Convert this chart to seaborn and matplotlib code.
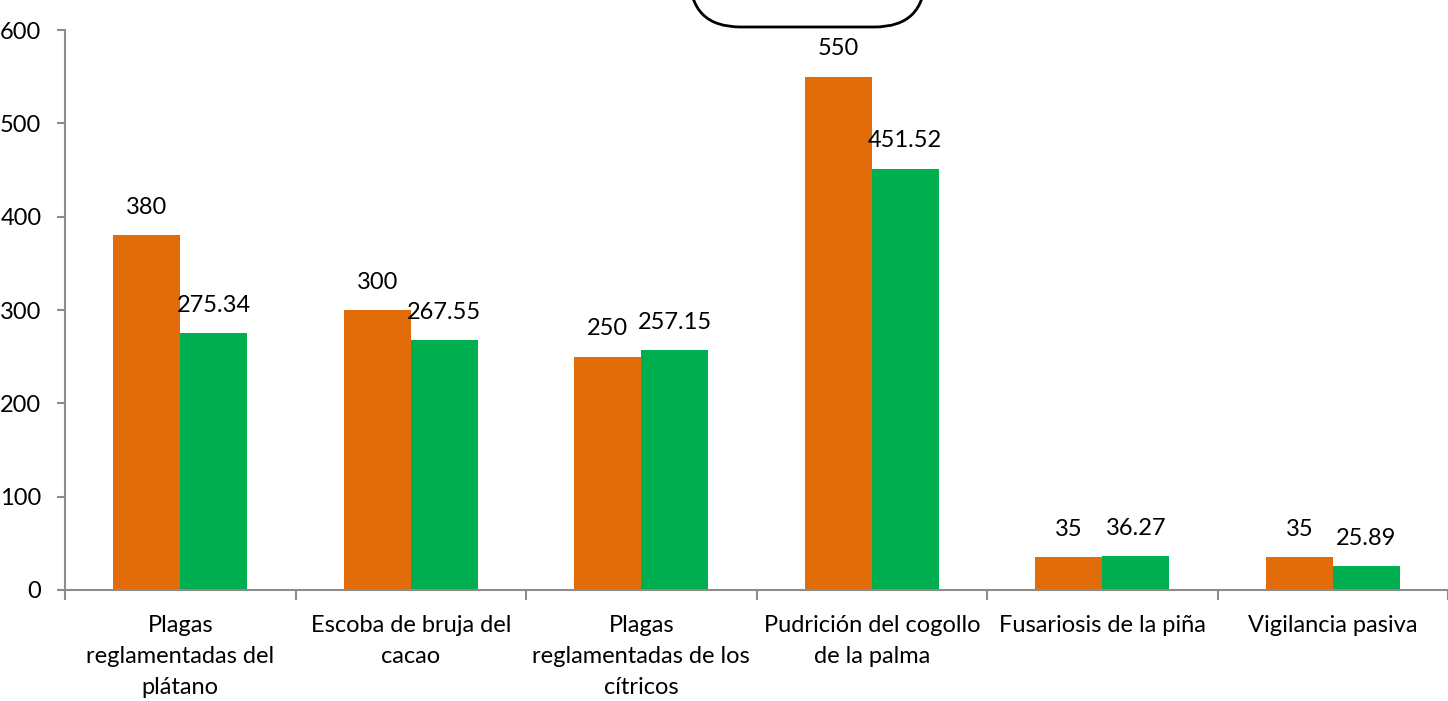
import pandas as pd
import matplotlib.pyplot as plt
import seaborn as sns
from matplotlib.patches import FancyBboxPatch

# --- DATA ---
categorias = [
    "Plagas\nreglamentadas del\nplátano",
    "Escoba de bruja del\ncacao",
    "Plagas\nreglamentadas de los\ncítricos",
    "Pudrición del cogollo\nde la palma",
    "Fusariosis de la piña",
    "Vigilancia pasiva",
]
meta = [380, 300, 250, 550, 35, 35]
ejecutado = [275.34, 267.55, 257.15, 451.52, 36.27, 25.89]
etiquetas_meta = ["380", "300", "250", "550", "35", "35"]
etiquetas_ejec = ["275.34", "267.55", "257.15", "451.52", "36.27", "25.89"]

serie_nombres = ["Meta", "Ejecutado"]
colores = ["#E36C0A", "#00B050"]

df = pd.DataFrame({
    "Categoria": categorias * 2,
    "Valor": meta + ejecutado,
    "Serie": [serie_nombres[0]] * len(meta) + [serie_nombres[1]] * len(ejecutado),
})

# --- ESTILO ---
sns.set_style("white")
plt.rcParams["font.family"] = ["Lato", "DejaVu Sans"]
plt.rcParams["font.size"] = 17
FS = 17

fig = plt.figure(figsize=(14.48, 7.01), dpi=100)
ax = fig.add_axes([65 / 1448, 111 / 701, 1 - 65 / 1448, 560 / 701])

sns.barplot(data=df, x="Categoria", y="Valor", hue="Serie",
            palette=colores, width=0.58, gap=0, saturation=1,
            edgecolor="none", legend=False, ax=ax)

# etiquetas de valor
for cont, labs in zip(ax.containers, [etiquetas_meta, etiquetas_ejec]):
    for bar, lab in zip(cont, labs):
        ax.annotate(lab, (bar.get_x() + bar.get_width() / 2, bar.get_height()),
                    xytext=(0, 20), textcoords="offset points",
                    ha="center", va="center", fontsize=FS, color="black")

ax.set_ylim(0, 600)
ax.set_xlim(-0.5, len(categorias) - 0.5)
ax.set_yticks([0, 100, 200, 300, 400, 500, 600])
ax.set_xlabel("")
ax.set_ylabel("")

for s in ["top", "right"]:
    ax.spines[s].set_visible(False)
for s in ["left", "bottom"]:
    ax.spines[s].set_color("#8c8c8c")
    ax.spines[s].set_linewidth(1.5)

ax.tick_params(axis="y", which="major", length=6, width=1.5, color="#8c8c8c",
               direction="out", left=True, labelsize=FS, pad=11, labelcolor="black")
ax.tick_params(axis="x", which="major", length=0, labelsize=FS, pad=18,
               labelcolor="black")
ax.set_xticks([i + 0.5 for i in range(-1, len(categorias))], minor=True)
ax.tick_params(axis="x", which="minor", length=7, width=1.5, color="#8c8c8c",
               direction="out", bottom=True)
for t in ax.get_xticklabels():
    t.set_linespacing(1.6)

# cuadro redondeado recortado arriba
caja = FancyBboxPatch((690 / 1448, 1 - 27 / 701), 235 / 1448, 80 / 701,
                      boxstyle="round,pad=0,rounding_size=0.035",
                      transform=fig.transFigure, facecolor="white",
                      edgecolor="black", linewidth=2, clip_on=False,
                      mutation_aspect=1448 / 701)
fig.patches.append(caja)

fig.savefig("out.png", dpi=100)
